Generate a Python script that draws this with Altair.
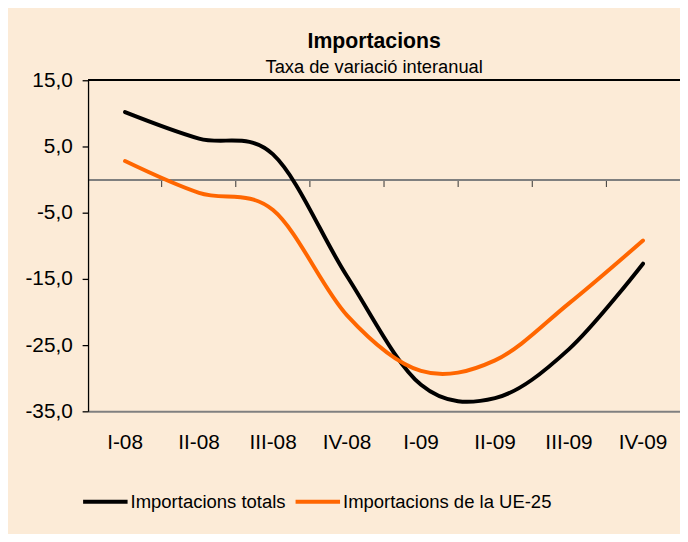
import altair as alt
import pandas as pd

quarters = ["I-08", "II-08", "III-08", "IV-08", "I-09", "II-09", "III-09", "IV-09"]
total = [10.2, 6.2, 3.8, -14.6, -31.0, -33.0, -25.6, -12.7]
ue25 = [2.8, -2.0, -4.6, -20.5, -28.9, -27.3, -18.7, -9.2]
series = ["Importacions totals", "Importacions de la UE-25"]
colors = ["#000000", "#FF6600"]
y_ticks = [-35, -25, -15, -5, 5, 15]

rows = []
for s, vals in zip(series, [total, ue25]):
    for i, (q, v) in enumerate(zip(quarters, vals)):
        rows.append({"q": q, "v": v, "s": s, "i": i})
df = pd.DataFrame(rows)

FONT = "Liberation Sans, Arial, sans-serif"
W, H = 599, 335

xscale = alt.Scale(type="band", domain=quarters, paddingInner=0, paddingOuter=0)
yscale = alt.Scale(domain=[-35, 15], nice=False, zero=False)
label_expr = "(datum.value < 0 ? '-' : '') + replace(format(abs(datum.value), '.1f'), '.', ',')"

yaxis = alt.Axis(values=y_ticks, labelExpr=label_expr, labelFont=FONT, labelFontSize=21,
                 labelColor="black", labelPadding=10, tickColor="black", tickSize=6, tickWidth=1.3,
                 domainColor="black", domainWidth=1.3, grid=False, title=None)

lines = alt.Chart(df).mark_line(interpolate="cardinal", strokeWidth=4, strokeCap="round",
                                strokeJoin="round").encode(
    x=alt.X("q:N", scale=xscale, bandPosition=0.5, title=None,
            axis=alt.Axis(orient="bottom", labels=True, ticks=False, tickSize=0,
                          domainColor="#808080", domainWidth=2, labelFont=FONT,
                          labelFontSize=21, labelColor="black", labelPadding=21,
                          labelAngle=0, grid=False, title=None)),
    y=alt.Y("v:Q", scale=yscale, title=None, axis=yaxis),
    color=alt.Color("s:N", scale=alt.Scale(domain=series, range=colors),
                    legend=alt.Legend(orient="none", legendX=-7, legendY=401.5,
                                      direction="horizontal", title=None,
                                      symbolType="stroke", symbolSize=2025,
                                      symbolStrokeWidth=4, labelFont=FONT,
                                      labelFontSize=18.7, labelColor="black",
                                      labelOffset=1, columnPadding=2,
                                      labelLimit=400, padding=0)),
    order=alt.Order("i:Q"),
)

zero_axis = alt.Chart(df).mark_point(opacity=0).encode(
    x=alt.X("q:N", scale=xscale, title=None,
            axis=alt.Axis(orient="bottom", offset=-234.5, labels=False, ticks=True,
                          tickSize=7, tickColor="#333333", tickWidth=1, bandPosition=0,
                          domainColor="#7f7f7f", domainWidth=2, zindex=0, grid=False,
                          title=None)),
    y=alt.Y("v:Q", scale=yscale, title=None, axis=yaxis),
)

top_border = alt.Chart(df).mark_rule(color="black", strokeWidth=1.5).encode(
    y=alt.datum(15, scale=yscale)
)

chart = alt.layer(zero_axis, top_border, lines).resolve_axis(x="independent").properties(
    width=W, height=H,
    title=alt.TitleParams(text="Importacions", subtitle="Taxa de variació interanual",
                          anchor="middle", font=FONT, fontSize=21.5, fontWeight="bold",
                          color="black", subtitleFont=FONT, subtitleFontSize=18.5,
                          subtitleColor="black", subtitlePadding=6.5, offset=-7.5, dx=-10,
                          frame="group"),
    padding={"left": 81, "top": 70, "right": 0, "bottom": 121},
    autosize=alt.AutoSizeParams(type="none"),
    background="#FCEBD7",
).configure_view(stroke=None)

chart.save("out.html", embed_options={"renderer": "svg", "actions": False})
